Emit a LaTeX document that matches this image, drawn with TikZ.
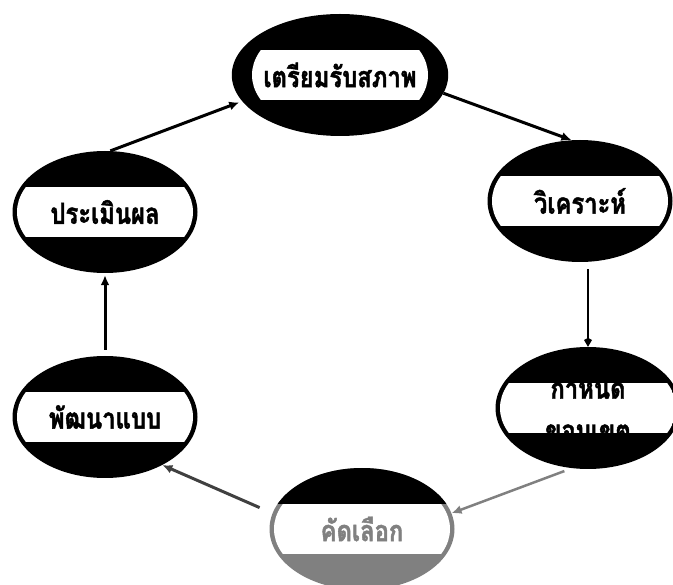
\documentclass[tikz,border=0pt]{standalone}
\usepackage{fontspec}
\newfontfamily\thaifont[Script=Thai,FakeStretch=0.82,BoldFeatures={FakeBold=1.5}]{Loma}
\usetikzlibrary{shapes.geometric,arrows.meta}
\begin{document}
\begin{tikzpicture}[
x=1pt,y=-1pt,
stage/.style={ellipse,fill=black,minimum width=185pt,minimum height=122pt,inner sep=0pt,
  font=\thaifont\bfseries\fontsize{29}{42}\selectfont,align=center,
  path picture={
    \begin{scope}
    \clip (path picture bounding box.center) ellipse (88pt and 57pt);
    \fill[white] ([yshift=-25pt]path picture bounding box.west) rectangle ([yshift=25pt]path picture bounding box.east);
    \end{scope}}},
faded/.style={stage,fill=gray,text=gray,
  path picture={
    \fill[black] (path picture bounding box.north west) rectangle ([yshift=25pt]path picture bounding box.east);
    \begin{scope}
    \clip (path picture bounding box.center) ellipse (88pt and 57pt);
    \fill[white] ([yshift=-25pt]path picture bounding box.west) rectangle ([yshift=25pt]path picture bounding box.east);
    \end{scope}}},
flow/.style={line width=3pt,-{Latex[length=10pt,width=9pt]}}
]
\useasboundingbox (0,0) rectangle (673,585);
\node[stage] (prepare) at (340,75) {เตรียมรับสภาพ};
\node[stage] (analyse) at (580,201) {วิเคราะห์};
\node[stage] (scope) at (588,408) {กำหนด\\ขอบเขต};
\node[faded] (select) at (362,529) {คัดเลือก};
\node[stage] (develop) at (105,417) {พัฒนาแบบ};
\node[stage] (evaluate) at (105,212) {ประเมินผล};

\draw[flow] (prepare.-10) -- (analyse.98);
\draw[flow,line width=2.5pt,-{Kite[length=9pt,width=8pt]},shorten <=7pt] (scope.north |- analyse.south) -- (scope.north);
\draw[flow,gray,line width=2.5pt,shorten <=8pt] (scope.-105) -- (select.10);
\draw[flow,black!75,shorten <=14pt] (select.170) -- (develop.-40);
\draw[flow,shorten <=6pt,shorten >=2pt] (develop.north) -- (evaluate.south);
\draw[flow,shorten >=3pt] (evaluate.85) -- (prepare.195);
\end{tikzpicture}
\end{document}
